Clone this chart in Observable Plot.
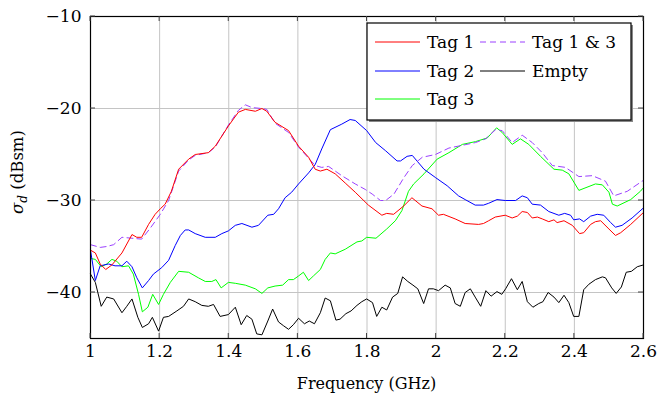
<!DOCTYPE html>
<html><head><meta charset="utf-8">
<script src="https://cdn.jsdelivr.net/npm/d3@7"></script>
<script src="https://cdn.jsdelivr.net/npm/@observablehq/plot@0.6"></script>
<style>
body{margin:0;background:#fff;}
#chart{position:relative;width:657px;height:401px;}
#chart svg text{font-family:"DejaVu Serif","Liberation Serif",serif;}
</style></head><body><div id="chart"></div>
<script>
const xTicks = [1, 1.2, 1.4, 1.6, 1.8, 2, 2.2, 2.4, 2.6];
const yTicks = [-40, -30, -20, -10];
const xDomain = [1, 2.6];
const yDomain = [-45, -10];

const tag1F = [1.00,1.014,1.028,1.044,1.062,1.091,1.120,1.134,1.148,1.168,1.187,1.202,1.216,1.234,1.255,1.284,1.303,1.341,1.361,1.399,1.428,1.448,1.477,1.496,1.510,1.534,1.573,1.602,1.631,1.650,1.665,1.684,1.708,1.737,1.766,1.804,1.843,1.857,1.877,1.906,1.930,1.959,1.988,2.007,2.021,2.055,2.084,2.123,2.137,2.152,2.171,2.200,2.220,2.235,2.249,2.264,2.278,2.293,2.307,2.326,2.341,2.350,2.370,2.394,2.415,2.427,2.447,2.461,2.476,2.500,2.519,2.534,2.563,2.600];
const tag1V = [-35.4,-35.7,-36.9,-37.5,-37.0,-35.7,-33.7,-34.0,-34.0,-32.6,-31.5,-30.9,-30.4,-29.0,-26.6,-25.5,-25.0,-24.8,-24.1,-21.9,-20.4,-20.1,-20.3,-20.0,-20.3,-21.5,-22.4,-24.1,-25.3,-26.6,-26.8,-26.6,-27.1,-28.1,-29.1,-30.5,-31.6,-31.4,-31.5,-30.6,-29.7,-30.6,-30.9,-31.6,-31.5,-32.0,-32.5,-32.6,-32.5,-32.2,-31.8,-31.6,-31.9,-31.7,-31.2,-31.3,-31.9,-31.8,-32.0,-32.3,-32.1,-32.4,-32.2,-32.7,-33.6,-33.5,-32.6,-32.3,-32.2,-33.1,-33.8,-33.5,-32.6,-31.3];

const tag2F = [1.00,1.014,1.028,1.052,1.071,1.091,1.105,1.120,1.134,1.150,1.168,1.182,1.206,1.226,1.245,1.260,1.274,1.284,1.303,1.332,1.361,1.380,1.399,1.419,1.438,1.467,1.486,1.513,1.530,1.544,1.563,1.582,1.602,1.631,1.650,1.669,1.694,1.727,1.751,1.766,1.799,1.825,1.854,1.887,1.897,1.916,1.931,1.965,1.998,2.032,2.065,2.084,2.113,2.137,2.152,2.176,2.200,2.230,2.249,2.264,2.278,2.302,2.326,2.355,2.372,2.389,2.398,2.415,2.427,2.447,2.466,2.485,2.505,2.519,2.538,2.567,2.600];
const tag2V = [-35.4,-38.7,-37.1,-36.9,-37.1,-37.1,-36.6,-37.2,-38.4,-39.5,-38.7,-38.0,-37.3,-36.5,-34.9,-33.8,-33.2,-33.2,-33.6,-34.0,-34.0,-33.6,-33.3,-32.7,-32.5,-32.9,-32.7,-31.6,-31.5,-30.9,-29.7,-29.1,-28.2,-27.0,-26.1,-24.4,-22.3,-21.7,-21.2,-21.3,-22.4,-23.7,-24.6,-25.7,-25.7,-25.2,-25.1,-26.6,-27.5,-28.4,-29.5,-29.9,-30.5,-30.5,-30.3,-29.9,-30.0,-30.0,-29.5,-29.7,-30.4,-30.5,-31.2,-31.6,-31.4,-31.6,-32.1,-32.0,-32.3,-31.7,-31.5,-31.6,-32.4,-32.9,-32.7,-31.9,-30.8];

const tag3F = [1.00,1.014,1.031,1.047,1.062,1.076,1.091,1.110,1.124,1.139,1.150,1.166,1.180,1.197,1.211,1.231,1.255,1.284,1.312,1.332,1.351,1.363,1.378,1.399,1.419,1.448,1.477,1.496,1.513,1.534,1.556,1.573,1.587,1.602,1.616,1.631,1.645,1.665,1.679,1.694,1.708,1.737,1.771,1.785,1.799,1.826,1.857,1.882,1.901,1.920,1.935,1.965,2.003,2.037,2.076,2.114,2.148,2.175,2.191,2.220,2.244,2.268,2.302,2.341,2.365,2.384,2.413,2.461,2.481,2.500,2.510,2.524,2.563,2.591,2.600];
const tag3V = [-36.3,-36.4,-37.2,-36.9,-36.4,-36.6,-37.2,-37.1,-38.0,-40.2,-42.1,-41.6,-40.2,-41.3,-40.2,-38.9,-37.7,-37.8,-38.4,-38.8,-38.8,-38.6,-39.5,-38.9,-39.0,-39.2,-39.6,-40.1,-39.5,-39.3,-39.2,-38.6,-38.6,-38.2,-37.8,-38.7,-38.2,-37.5,-36.4,-35.7,-35.8,-35.3,-34.5,-34.4,-34.0,-34.1,-33.1,-32.2,-31.1,-29.0,-28.2,-27.1,-25.5,-24.8,-23.9,-23.6,-23.2,-22.1,-22.6,-23.9,-23.3,-23.9,-25.2,-26.6,-26.7,-27.1,-28.9,-28.2,-28.3,-29.1,-30.4,-30.6,-29.9,-29.0,-28.6];

const tag13F = [1.00,1.028,1.047,1.067,1.091,1.120,1.148,1.173,1.202,1.226,1.255,1.284,1.303,1.341,1.361,1.399,1.428,1.448,1.467,1.496,1.510,1.534,1.573,1.602,1.631,1.650,1.669,1.689,1.727,1.766,1.795,1.815,1.839,1.854,1.878,1.907,1.931,1.960,1.998,2.037,2.076,2.114,2.143,2.172,2.191,2.220,2.249,2.278,2.307,2.336,2.374,2.413,2.452,2.490,2.514,2.553,2.600];
const tag13V = [-34.8,-35.1,-35.0,-34.8,-34.0,-34.1,-34.2,-33.0,-31.5,-30.0,-26.8,-25.6,-25.1,-24.8,-24.2,-21.8,-20.2,-19.6,-19.9,-20.0,-20.1,-21.6,-22.6,-24.2,-25.4,-26.2,-26.4,-26.3,-27.3,-28.2,-28.8,-29.3,-30.0,-30.0,-29.3,-27.5,-26.2,-25.3,-25.0,-24.3,-24.0,-23.7,-23.3,-22.3,-22.4,-23.7,-22.9,-23.7,-24.8,-26.2,-26.4,-27.4,-27.3,-27.9,-29.5,-29.0,-27.8];

const emptyF = [1.00,1.014,1.031,1.047,1.067,1.091,1.105,1.120,1.137,1.150,1.168,1.179,1.197,1.211,1.226,1.250,1.269,1.284,1.303,1.322,1.341,1.356,1.375,1.399,1.419,1.436,1.452,1.467,1.481,1.496,1.513,1.527,1.544,1.558,1.573,1.587,1.602,1.619,1.633,1.648,1.665,1.679,1.694,1.710,1.722,1.739,1.754,1.771,1.785,1.799,1.816,1.828,1.843,1.857,1.874,1.889,1.903,1.918,1.933,1.947,1.964,1.978,1.992,2.007,2.026,2.041,2.055,2.070,2.084,2.099,2.113,2.129,2.144,2.159,2.176,2.190,2.201,2.218,2.235,2.249,2.264,2.280,2.297,2.309,2.324,2.341,2.355,2.370,2.384,2.398,2.413,2.427,2.442,2.461,2.481,2.490,2.508,2.521,2.536,2.550,2.565,2.582,2.600];
const emptyV = [-38.0,-38.9,-41.5,-40.5,-40.7,-42.2,-41.5,-40.7,-42.7,-43.8,-43.4,-42.7,-44.2,-42.7,-42.6,-42.0,-41.5,-40.7,-41.0,-41.4,-41.5,-41.3,-42.6,-42.4,-41.6,-43.5,-42.5,-42.9,-44.5,-44.6,-43.1,-41.8,-43.2,-43.6,-44.0,-43.5,-42.8,-43.4,-43.1,-43.4,-42.2,-40.6,-40.9,-43.0,-42.9,-42.3,-42.0,-41.4,-41.0,-40.7,-41.1,-42.6,-41.6,-41.9,-40.5,-40.1,-38.3,-38.8,-39.2,-39.6,-41.2,-39.6,-39.6,-39.8,-39.2,-39.5,-41.2,-41.5,-40.0,-39.6,-40.5,-41.5,-39.8,-40.4,-39.9,-40.2,-39.6,-38.5,-39.7,-38.8,-41.0,-41.6,-41.2,-41.0,-40.0,-40.5,-41.1,-40.3,-41.1,-42.6,-42.6,-39.7,-39.1,-38.6,-38.3,-38.4,-39.5,-40.1,-39.4,-37.8,-37.7,-37.2,-37.0];

const seriesNames = ["Tag 1", "Tag 1 & 3", "Tag 2", "Empty", "Tag 3"];
const seriesColors = ["#ff0000", "#9b40ff", "#0000ff", "#000000", "#00ff00"];
const seriesDash = [null, "6,4", null, null, null];
const seriesF = [tag1F, tag13F, tag2F, emptyF, tag3F];
const seriesV = [tag1V, tag13V, tag2V, emptyV, tag3V];

const xLabel = "Frequency (GHz)";
const yLabelSym = "σ";
const yLabelSub = "d";
const yLabelRest = " (dBsm)";

const FONT = "DejaVu Serif, Liberation Serif, serif";
const W = 657, H = 401, ML = 90, MR = 14, MT = 16, MB = 63;

const rowsOf = i => seriesF[i].map((f, j) => ({f, v: seriesV[i][j]}));
const drawOrder = [3, 4, 2, 1, 0];
const lineMarks = drawOrder.map(i => Plot.line(rowsOf(i), {
  x: "f", y: "v", stroke: seriesColors[i], strokeWidth: 1,
  strokeDasharray: seriesDash[i] || undefined, curve: "linear"
}));

const fmt = d3.format("~g");
const plot = Plot.plot({
  width: W, height: H,
  marginLeft: ML, marginRight: MR, marginTop: MT, marginBottom: MB,
  style: {fontFamily: FONT, fontSize: "17px", color: "#000", background: "#fff", overflow: "visible"},
  x: {domain: xDomain},
  y: {domain: yDomain},
  marks: [
    Plot.gridX(xTicks, {stroke: "#c4c4c4", strokeOpacity: 1, strokeWidth: 1}),
    Plot.gridY(yTicks, {stroke: "#c4c4c4", strokeOpacity: 1, strokeWidth: 1}),
    ...lineMarks,
    Plot.frame({stroke: "#000", strokeWidth: 1.2}),
    Plot.axisX(xTicks, {tickSize: 0, tickPadding: 6, label: null, tickFormat: fmt, fontSize: 17}),
    Plot.axisY(yTicks, {tickSize: 0, tickPadding: 9, label: null, tickFormat: fmt, fontSize: 17})
  ]
});
document.getElementById("chart").appendChild(plot);

const svg = d3.select(plot);
const sx = plot.scale("x"), sy = plot.scale("y");
const x0 = sx.apply(xDomain[0]), x1 = sx.apply(xDomain[1]);
const y0 = sy.apply(yDomain[0]), y1 = sy.apply(yDomain[1]);
const TL = 5;
const tg = svg.append("g").attr("stroke", "#444").attr("stroke-width", 1);
xTicks.forEach(t => {
  const px = sx.apply(t);
  tg.append("line").attr("x1", px).attr("x2", px).attr("y1", y0).attr("y2", y0 - TL);
  tg.append("line").attr("x1", px).attr("x2", px).attr("y1", y1).attr("y2", y1 + TL);
});
yTicks.forEach(t => {
  const py = sy.apply(t);
  tg.append("line").attr("x1", x0).attr("x2", x0 + TL).attr("y1", py).attr("y2", py);
  tg.append("line").attr("x1", x1).attr("x2", x1 - TL).attr("y1", py).attr("y2", py);
});

// axis labels
svg.append("text").attr("x", (x0 + x1) / 2).attr("y", 389)
  .attr("text-anchor", "middle").attr("font-size", 16).attr("fill", "#000")
  .text(xLabel);
const yl = svg.append("text").attr("transform", `translate(23,${(y0 + y1) / 2 - 5}) rotate(-90)`)
  .attr("text-anchor", "middle").attr("font-size", 16.5).attr("fill", "#000");
yl.append("tspan").attr("font-style", "italic").text(yLabelSym);
yl.append("tspan").attr("font-style", "italic").attr("font-size", 12).attr("dy", 4).text(yLabelSub);
yl.append("tspan").attr("dy", -4).text(yLabelRest);

// legend
const lg = svg.append("g");
const LX = 367, LY = 23, LW = 264, LH = 97;
lg.append("rect").attr("x", LX + 2).attr("y", LY + 2).attr("width", LW).attr("height", LH).attr("fill", "#888");
lg.append("rect").attr("x", LX).attr("y", LY).attr("width", LW).attr("height", LH).attr("fill", "#fff").attr("stroke", "#000").attr("stroke-width", 1.2);
const colX = [375, 480], rowY = [42, 71, 99];
seriesNames.forEach((name, i) => {
  const c = i % 2, r = Math.floor(i / 2);
  const lx = colX[c], ly = rowY[r];
  lg.append("line").attr("x1", lx).attr("x2", lx + 45).attr("y1", ly).attr("y2", ly)
    .attr("stroke", seriesColors[i]).attr("stroke-width", 1)
    .attr("stroke-dasharray", seriesDash[i]);
  lg.append("text").attr("x", lx + 52).attr("y", ly).attr("dy", "0.35em")
    .attr("text-anchor", "start").attr("font-size", 17).attr("fill", "#000").text(name);
});
</script></body></html>
